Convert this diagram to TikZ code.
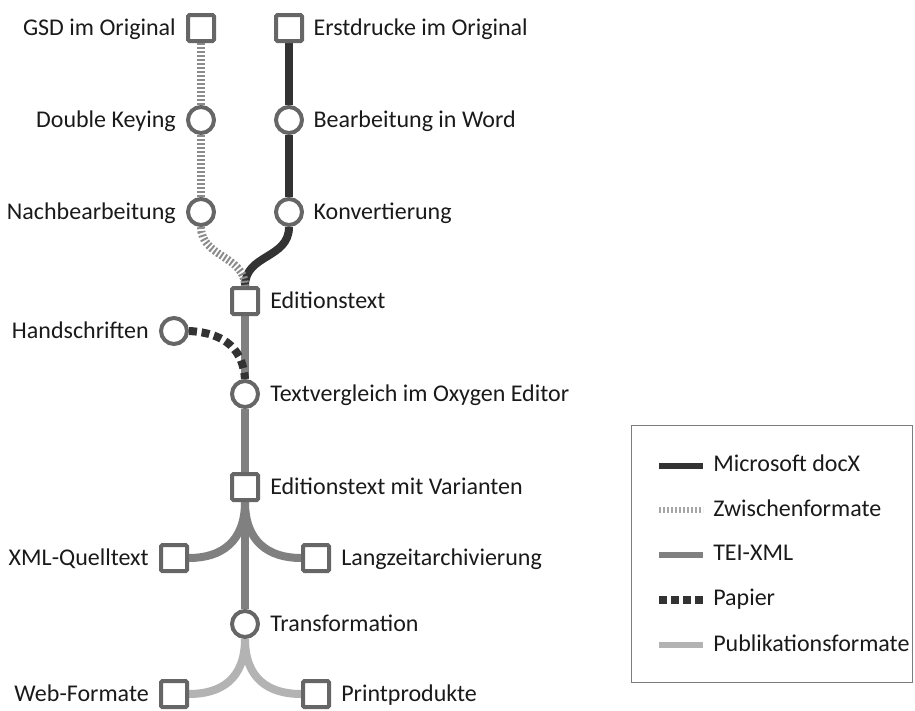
\documentclass[tikz,border=0pt]{standalone}
\usepackage{fontspec}
\setmainfont{Carlito}
\usetikzlibrary{backgrounds,positioning}
\definecolor{cdocx}{HTML}{333333}
\definecolor{czw}{HTML}{8C8C8C}
\definecolor{czwl}{HTML}{A6A6A6}
\definecolor{ctei}{HTML}{808080}
\definecolor{cpub}{HTML}{B3B3B3}
\definecolor{cnode}{HTML}{666666}
\definecolor{ctext}{HTML}{1A1A1A}
\begin{document}
\begin{tikzpicture}[x=0.75pt,y=-0.75pt,
  sq/.style={draw=cnode, line width=3pt, fill=white, minimum size=19.5pt, inner sep=0pt, rounded corners=1pt},
  circ/.style={circle, draw=cnode, line width=3pt, fill=white, minimum size=19.5pt, inner sep=0pt},
  lbl/.style={font=\fontsize{18}{21}\selectfont, text=ctext, inner sep=0pt, text height=11.6pt, text depth=0pt},
  docx/.style={draw=cdocx, line width=6pt},
  zw/.style={draw=czw, line width=6pt, dash pattern=on 1.5pt off 1.5pt},
  tei/.style={draw=ctei, line width=6pt},
  pap/.style={draw=cdocx, line width=6pt, dash pattern=on 6pt off 3.5pt},
  pub/.style={draw=cpub, line width=6pt}]
\useasboundingbox (0,0) rectangle (915,711);
% nodes
\node[sq] (gsd) at (201,28) {};
\node[sq] (erst) at (289,28) {};
\node[circ] (dk) at (201,120) {};
\node[circ] (bw) at (289,120) {};
\node[circ] (nb) at (201,212) {};
\node[circ] (konv) at (289,212) {};
\node[sq] (edit) at (245,301) {};
\node[circ] (hand) at (174,331) {};
\node[circ] (textv) at (245,394) {};
\node[sq] (editv) at (245,487) {};
\node[sq] (xml) at (174,558) {};
\node[sq] (lang) at (316,558) {};
\node[circ] (transf) at (245,624) {};
\node[sq] (web) at (174,694) {};
\node[sq] (print) at (316,694) {};
% labels
\node[lbl, left=7.5pt of gsd] (gsdL) {GSD im Original};
\node[lbl, right=7pt of erst] (erstL) {Erstdrucke im Original};
\node[lbl, left=7.5pt of dk] (dkL) {Double Keying};
\node[lbl, right=7pt of bw] (bwL) {Bearbeitung in Word};
\node[lbl, left=7.5pt of nb] (nbL) {Nachbearbeitung};
\node[lbl, right=7pt of konv] (konvL) {Konvertierung};
\node[lbl, right=7.5pt of edit] (editL) {Editionstext};
\node[lbl, left=7.5pt of hand] (handL) {Handschriften};
\node[lbl, right=7.5pt of textv] (textvL) {Textvergleich im Oxygen Editor};
\node[lbl, right=7.5pt of editv] (editvL) {Editionstext mit Varianten};
\node[lbl, left=7.5pt of xml] (xmlL) {XML-Quelltext};
\node[lbl, right=7.5pt of lang] (langL) {Langzeitarchivierung};
\node[lbl, right=7.5pt of transf] (transfL) {Transformation};
\node[lbl, left=7.5pt of web] (webL) {Web-Formate};
\node[lbl, right=7.5pt of print] (printL) {Printprodukte};
% connectors
\begin{scope}[on background layer]
\draw[docx] (erst) -- (bw) -- (konv);
\draw[docx] (konv.south) .. controls +(0,32) and +(0,-32) .. (edit.north);
\draw[zw] (gsd) -- (dk) -- (nb);
\draw[zw] (nb.south) .. controls +(0,30) and +(0,-30) .. (edit.north);
\draw[tei] (edit) -- (textv) -- (editv) -- (transf);
\draw[pap] (hand.east) .. controls (228,333) and (243,352) .. (textv.north);
\draw[tei] (editv.south) .. controls +(0,40) and +(32,0) .. (xml.east);
\draw[tei] (editv.south) .. controls +(0,40) and +(-32,0) .. (lang.west);
\draw[pub] (transf.south) .. controls +(0,40) and +(32,0) .. (web.east);
\draw[pub] (transf.south) .. controls +(0,40) and +(-32,0) .. (print.west);
\end{scope}
% legend
\node[draw=cnode!85, line width=1.1pt, minimum width=210.5pt, minimum height=192.5pt, inner sep=0pt] (legend) at (772,554) {};
\coordinate (l1a) at (659,466); \coordinate (l1b) at (703,466);
\coordinate (l2a) at (659,510); \coordinate (l2b) at (703,510);
\coordinate (l3a) at (659,555); \coordinate (l3b) at (703,555);
\coordinate (l4a) at (659,600); \coordinate (l4b) at (703,600);
\coordinate (l5a) at (659,645); \coordinate (l5b) at (703,645);
\draw[docx, line width=4.5pt] (l1a) -- (l1b);
\draw[draw=czwl, line width=4.5pt, dash pattern=on 1.3pt off 1.7pt] (l2a) -- (l2b);
\draw[tei, line width=4.5pt] (l3a) -- (l3b);
\draw[pap, line width=5.5pt, dash pattern=on 6pt off 3pt] (l4a) -- (l4b);
\draw[pub, line width=4.5pt] (l5a) -- (l5b);
\node[lbl, anchor=west] (t1) at (713,464) {Microsoft docX};
\node[lbl, anchor=west] (t2) at (713,509) {Zwischenformate};
\node[lbl, anchor=west] (t3) at (713,553) {TEI-XML};
\node[lbl, anchor=west] (t4) at (713,598) {Papier};
\node[lbl, anchor=west] (t5) at (713,644) {Publikationsformate};
\end{tikzpicture}
\end{document}
